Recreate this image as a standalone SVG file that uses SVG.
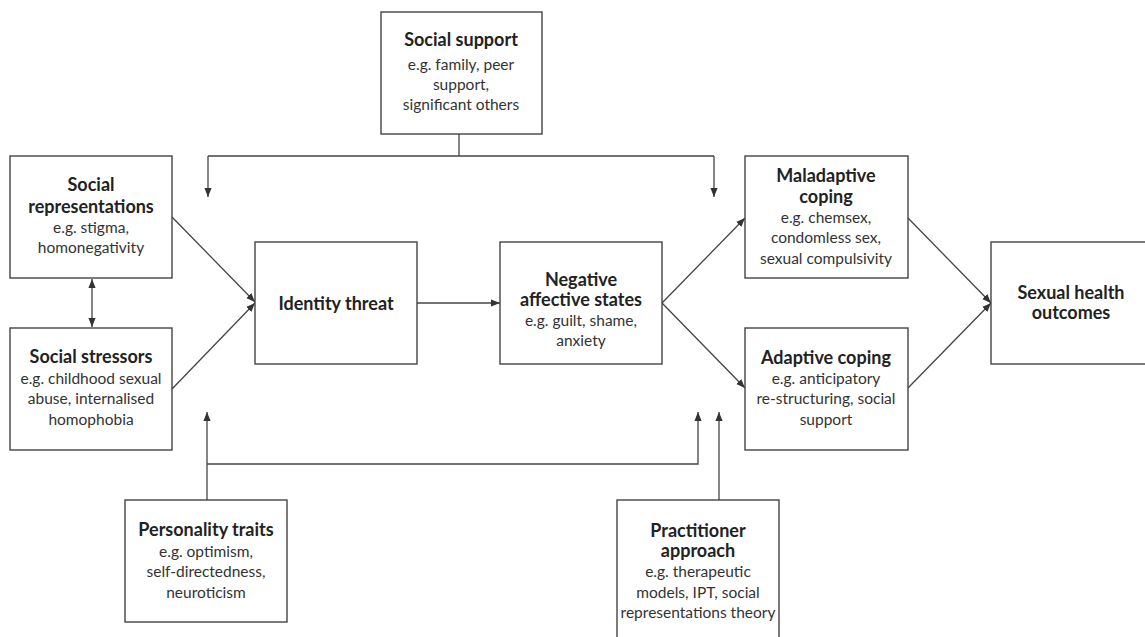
<svg xmlns="http://www.w3.org/2000/svg" width="1145" height="637" viewBox="0 0 1145 637">
<style>
.box{fill:#fff;stroke:#444;stroke-width:1.4}
.t{font-family:Lato,"Open Sans","Liberation Sans",sans-serif;font-size:15.5px;fill:#333;text-anchor:middle}
.b{font-weight:bold;fill:#222;font-size:18px}
.c{fill:none;stroke:#444;stroke-width:1.3}
</style>
<defs>
<marker id="ah" viewBox="0 0 10 10" refX="10" refY="5" markerWidth="9" markerHeight="9" markerUnits="userSpaceOnUse" orient="auto-start-reverse">
<path d="M0,1 L10,5 L0,9 z" fill="#333"/>
</marker>
</defs>
<rect width="1145" height="637" fill="#fff"/>
<g id="connectors">
<path class="c" d="M459,134 V156 M208,156 H714"/>
<path class="c" d="M208,156 V197" marker-end="url(#ah)"/>
<path class="c" d="M714,156 V197" marker-end="url(#ah)"/>
<path class="c" d="M92,279 V327" marker-start="url(#ah)" marker-end="url(#ah)"/>
<path class="c" d="M172,217 L255,302" marker-end="url(#ah)"/>
<path class="c" d="M172,389 L255,303" marker-end="url(#ah)"/>
<path class="c" d="M417,303 H500" marker-end="url(#ah)"/>
<path class="c" d="M662,303 L745,218" marker-end="url(#ah)"/>
<path class="c" d="M662,303 L745,388" marker-end="url(#ah)"/>
<path class="c" d="M908,218 L991,303" marker-end="url(#ah)"/>
<path class="c" d="M908,388 L991,303" marker-end="url(#ah)"/>
<path class="c" d="M207,500 V412" marker-end="url(#ah)"/>
<path class="c" d="M207,464 H698 V412" marker-end="url(#ah)"/>
<path class="c" d="M719,500 V412" marker-end="url(#ah)"/>
</g>
<g id="social-support">
<rect class="box" x="381" y="12" width="161" height="122"/>
<text class="t b" x="461" y="46">Social support</text>
<text class="t" x="461" y="70">e.g. family, peer</text>
<text class="t" x="461" y="90">support,</text>
<text class="t" x="461" y="110">significant others</text>
</g>
<g id="social-representations">
<rect class="box" x="10" y="156" width="162" height="122"/>
<text class="t b" x="91" y="191">Social</text>
<text class="t b" x="91" y="213">representations</text>
<text class="t" x="91" y="233">e.g. stigma,</text>
<text class="t" x="91" y="253">homonegativity</text>
</g>
<g id="social-stressors">
<rect class="box" x="10" y="328" width="162" height="122"/>
<text class="t b" x="91" y="363">Social stressors</text>
<text class="t" x="91" y="384">e.g. childhood sexual</text>
<text class="t" x="91" y="404">abuse, internalised</text>
<text class="t" x="91" y="425">homophobia</text>
</g>
<g id="identity-threat">
<rect class="box" x="255" y="242" width="162" height="122"/>
<text class="t b" x="336" y="310">Identity threat</text>
</g>
<g id="negative-affective-states">
<rect class="box" x="500" y="242" width="162" height="122"/>
<text class="t b" x="581" y="286">Negative</text>
<text class="t b" x="581" y="306">affective states</text>
<text class="t" x="581" y="326">e.g. guilt, shame,</text>
<text class="t" x="581" y="346">anxiety</text>
</g>
<g id="maladaptive-coping">
<rect class="box" x="745" y="156" width="163" height="122"/>
<text class="t b" x="826" y="182">Maladaptive</text>
<text class="t b" x="826" y="203">coping</text>
<text class="t" x="826" y="223">e.g. chemsex,</text>
<text class="t" x="826" y="243">condomless sex,</text>
<text class="t" x="826" y="264">sexual compulsivity</text>
</g>
<g id="adaptive-coping">
<rect class="box" x="745" y="328" width="163" height="122"/>
<text class="t b" x="826" y="364">Adaptive coping</text>
<text class="t" x="826" y="384">e.g. anticipatory</text>
<text class="t" x="826" y="404">re-structuring, social</text>
<text class="t" x="826" y="425">support</text>
</g>
<g id="sexual-health-outcomes">
<rect class="box" x="991" y="242" width="162" height="122"/>
<text class="t b" x="1071" y="299">Sexual health</text>
<text class="t b" x="1071" y="319">outcomes</text>
</g>
<g id="personality-traits">
<rect class="box" x="125" y="500" width="162" height="122"/>
<text class="t b" x="206" y="536">Personality traits</text>
<text class="t" x="206" y="557">e.g. optimism,</text>
<text class="t" x="206" y="577">self-directedness,</text>
<text class="t" x="206" y="598">neuroticism</text>
</g>
<g id="practitioner-approach">
<rect class="box" x="617" y="500" width="162" height="150"/>
<text class="t b" x="698" y="537">Practitioner</text>
<text class="t b" x="698" y="557">approach</text>
<text class="t" x="698" y="577">e.g. therapeutic</text>
<text class="t" x="698" y="598">models, IPT, social</text>
<text class="t" x="698" y="618">representations theory</text>
</g>
</svg>
